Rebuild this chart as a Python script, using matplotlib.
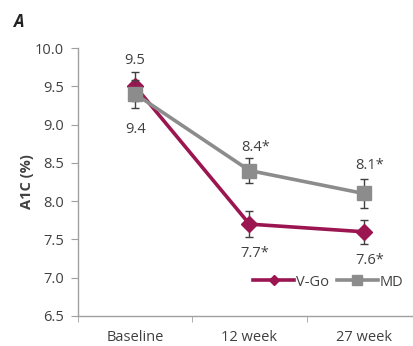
import numpy as np
import matplotlib.pyplot as plt
from matplotlib.lines import Line2D

# A1C over time, V-Go vs MD
categorias = ["Baseline", "12 week", "27 week"]
vgo = [9.5, 7.7, 7.6]
vgo_err = [0.19, 0.17, 0.16]
md = [9.4, 8.4, 8.1]
md_err = [0.18, 0.16, 0.19]
etiq_vgo = ["9.5", "7.7*", "7.6*"]
etiq_md = ["9.4", "8.4*", "8.1*"]

plt.rcParams['font.family'] = ['Open Sans', 'DejaVu Sans']
gris_txt = "#404040"
col_vgo = "#9B1550"
col_md = "#8C8C8C"
fs = 10.5

fig = plt.figure(figsize=(4.14, 3.46), dpi=100)
ax = fig.add_axes([78/414, 30/346, 1 - 78/414, 268/346])

x = np.arange(len(categorias))
ax.errorbar(x, vgo, yerr=vgo_err, color=col_vgo, lw=2.6, marker="D", ms=8,
            ecolor=gris_txt, elinewidth=1, capsize=3, zorder=3)
ax.errorbar(x, md, yerr=md_err, color=col_md, lw=2.6, marker="s", ms=10,
            ecolor=gris_txt, elinewidth=1, capsize=3, zorder=4)

# etiquetas de valores
ax.text(x[0], vgo[0] + 0.34, etiq_vgo[0], ha="center", va="center", fontsize=fs, color=gris_txt)
ax.text(x[0], md[0] - 0.47, etiq_md[0], ha="center", va="center", fontsize=fs, color=gris_txt)
for i in [1, 2]:
    ax.text(x[i] + 0.05, vgo[i] - 0.38, etiq_vgo[i], ha="center", va="center", fontsize=fs, color=gris_txt)
    ax.text(x[i] + 0.05, md[i] + 0.3 + (0.07 if i == 2 else 0), etiq_md[i], ha="center", va="center",
            fontsize=fs, color=gris_txt)

ax.set_xlim(-0.5, 2.44)
ax.set_ylim(6.5, 10.0)
ax.set_yticks(np.arange(6.5, 10.01, 0.5))
ax.set_yticklabels([f"{v:.1f}" for v in np.arange(6.5, 10.01, 0.5)])
ax.set_xticks(x)
ax.set_xticklabels(categorias)
ax.set_xticks([-0.5, 0.5, 1.5], minor=True)
ax.tick_params(axis="x", which="major", length=0, pad=10, labelsize=fs, labelcolor=gris_txt)
ax.tick_params(axis="x", which="minor", length=4, color="#A0A0A0", direction="out")
ax.tick_params(axis="y", length=5, color="#A0A0A0", labelsize=fs, labelcolor=gris_txt, pad=5)

for s in ["top", "right"]:
    ax.spines[s].set_visible(False)
for s in ["left", "bottom"]:
    ax.spines[s].set_color("#A0A0A0")
    ax.spines[s].set_linewidth(1)

ax.set_ylabel("A1C (%)", fontsize=fs, fontweight="bold", color=gris_txt, labelpad=1)

fig.text(14/414, 1 - 22/346, "A", fontsize=12, fontweight="bold", fontstyle="italic",
         va="center", color="#222222")

handles = [Line2D([], [], color=col_vgo, lw=2.6, marker="D", ms=5),
           Line2D([], [], color=col_md, lw=2.6, marker="s", ms=7)]
ax.legend(handles, ["V-Go", "MD"], loc="center left", bbox_to_anchor=(252/414, 1 - 282/346),
          bbox_transform=fig.transFigure, ncol=2, frameon=False, fontsize=fs,
          handlelength=2.8, handletextpad=0.15, columnspacing=0.5, labelcolor=gris_txt,
          borderpad=0.1, borderaxespad=0)

fig.savefig("out.png", dpi=100)
